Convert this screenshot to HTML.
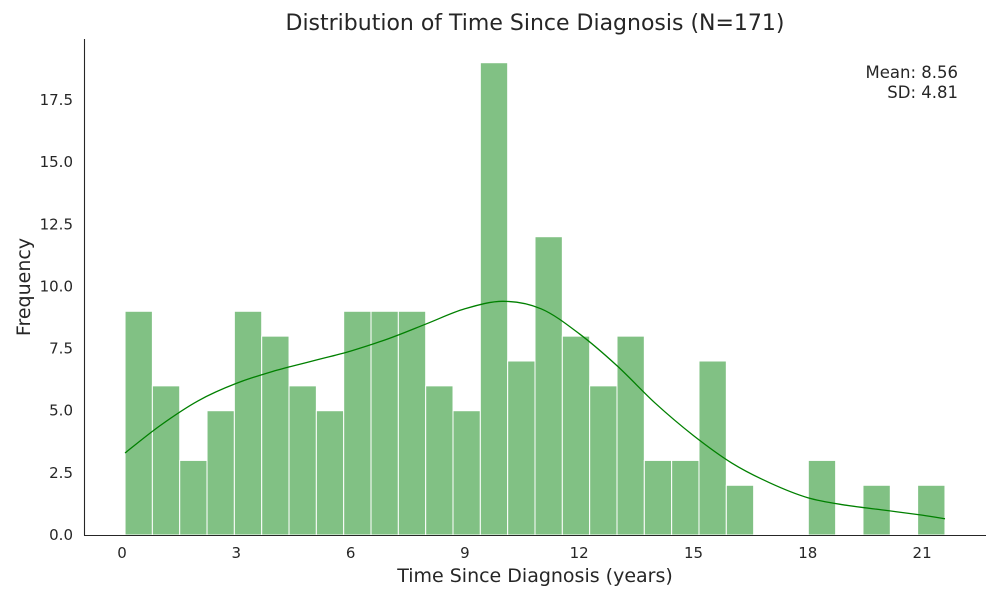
<!DOCTYPE html>
<html><head><meta charset="utf-8"><style>
body{margin:0;background:#fff;}
svg text{font-family:"DejaVu Sans","Liberation Sans",sans-serif;fill:#262626;}
</style></head><body>
<svg id="chart" width="1000" height="600"></svg>
<script>
const counts=[9,6,3,5,9,8,6,5,9,9,9,6,5,19,7,12,8,6,8,3,3,7,2,0,0,3,0,2,0,2];
const binStart=0.08, binEnd=21.6;
const kdeX=[0.08,1,2,3,4,5,6,7,8,9,10,11,12,13,14,15,16,17,18,19,20,21,21.6];
const kdeY=[3.3,4.4,5.4,6.1,6.6,7.0,7.4,7.9,8.5,9.1,9.4,9.1,8.1,6.8,5.3,4.0,2.9,2.1,1.5,1.2,1.0,0.8,0.65];
const xTicks=[0,3,6,9,12,15,18,21];
const yTicks=[0,2.5,5,7.5,10,12.5,15,17.5];
const NS="http://www.w3.org/2000/svg";
const svg=document.getElementById('chart');
const X=v=>122+v*38.1;
const Y=v=>535-v*24.857;
function mk(t,a,txt){const e=document.createElementNS(NS,t);for(const k in a)e.setAttribute(k,a[k]);if(txt!==undefined)e.textContent=txt;svg.appendChild(e);return e;}
const bw=(binEnd-binStart)/counts.length;
counts.forEach((c,i)=>{if(!c)return;const x0=X(binStart+i*bw),x1=X(binStart+(i+1)*bw);
const r=mk('rect',{x:x0,y:Y(c),width:x1-x0,height:Y(0)-Y(c),fill:'#81c184',stroke:'#fff','stroke-width':1});

});
const pts=kdeX.map((x,i)=>[X(x),Y(kdeY[i])]);
let d='M'+pts[0][0]+','+pts[0][1];
for(let i=0;i<pts.length-1;i++){const p0=pts[Math.max(0,i-1)],p1=pts[i],p2=pts[i+1],p3=pts[Math.min(pts.length-1,i+2)];
const c1=[p1[0]+(p2[0]-p0[0])/6,p1[1]+(p2[1]-p0[1])/6],c2=[p2[0]-(p3[0]-p1[0])/6,p2[1]-(p3[1]-p1[1])/6];
d+=` C${c1[0].toFixed(1)},${c1[1].toFixed(1)} ${c2[0].toFixed(1)},${c2[1].toFixed(1)} ${p2[0].toFixed(1)},${p2[1].toFixed(1)}`;}
const p=mk('path',{d:d,fill:'none',stroke:'#008000','stroke-width':1.3});


mk('line',{x1:84.5,y1:39,x2:84.5,y2:535.5,stroke:'#262626','stroke-width':1.1});
mk('line',{x1:84,y1:535.5,x2:986,y2:535.5,stroke:'#262626','stroke-width':1.1});
xTicks.forEach(t=>{const e=mk('text',{x:X(t),y:558,'font-size':15,'text-anchor':'middle'},String(t));

});
yTicks.forEach(t=>{const e=mk('text',{x:73,y:Y(t)+5,'font-size':15,'text-anchor':'end'},t.toFixed(1));

});
</script>
<svg width="1000" height="600" style="position:absolute;left:0;top:0">
<text x="535" y="30" font-size="22" text-anchor="middle">Distribution of Time Since Diagnosis (N=171)</text>
<text x="535" y="582" font-size="19" text-anchor="middle">Time Since Diagnosis (years)</text>
<text x="30" y="287" font-size="19" text-anchor="middle" transform="rotate(-90 30 287)">Frequency</text>
<text x="958" y="78" font-size="16.5" text-anchor="end">Mean: 8.56</text>
<text x="958" y="98" font-size="16.5" text-anchor="end">SD: 4.81</text>
</svg>
</body></html>
